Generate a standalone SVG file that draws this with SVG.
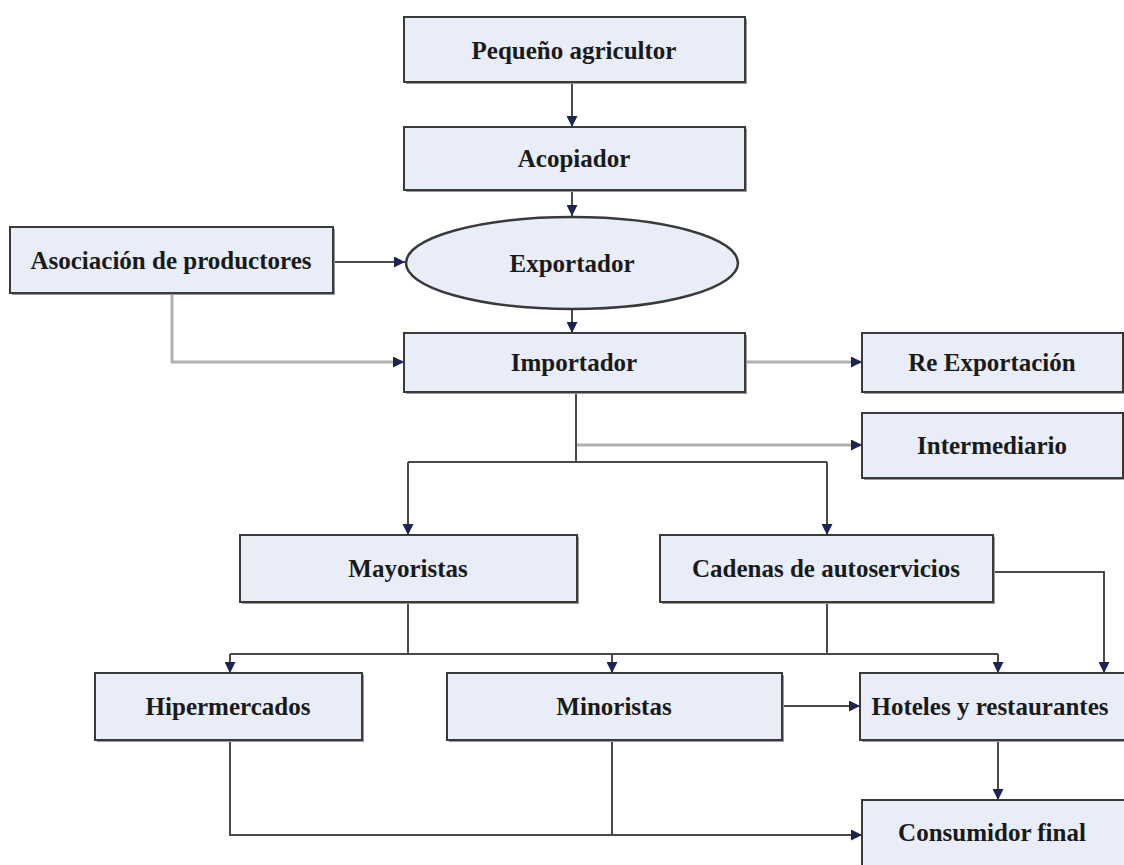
<svg xmlns="http://www.w3.org/2000/svg" width="1124" height="865" viewBox="0 0 1124 865">
<style>
.box{fill:#e8edf7;stroke:#3a3a3a;stroke-width:2}
.sh{fill:#9a9a9a}
.t{font-family:"Liberation Serif","Times New Roman",serif;font-weight:bold;font-size:25px;fill:#1a1a1a;text-anchor:middle}
.c{fill:none;stroke:#4a4a4a;stroke-width:2}
.cl{fill:none;stroke:#b0b0b0;stroke-width:3}
</style>
<defs>
<marker id="ah" viewBox="0 0 10 10" refX="10" refY="5" markerWidth="11" markerHeight="11" markerUnits="userSpaceOnUse" orient="auto">
<path d="M0,0 L10,5 L0,10 z" fill="#1e2352"/>
</marker>
</defs>
<rect width="1124" height="865" fill="#ffffff"/>
<g id="connectors">
<path class="c" d="M572,83 V127" marker-end="url(#ah)"/>
<path class="c" d="M572,191 V216" marker-end="url(#ah)"/>
<path class="c" d="M333,262 H405" marker-end="url(#ah)"/>
<path class="c" d="M572,309 V333" marker-end="url(#ah)"/>
<path class="cl" d="M172,294 V362 H404" marker-end="url(#ah)"/>
<path class="cl" d="M746,362 H862" marker-end="url(#ah)"/>
<path class="cl" d="M576,445 H862" marker-end="url(#ah)"/>
<path class="c" d="M576,393 V462"/>
<path class="c" d="M408,462 H827"/>
<path class="c" d="M408,462 V535" marker-end="url(#ah)"/>
<path class="c" d="M827,462 V535" marker-end="url(#ah)"/>
<path class="c" d="M994,572 H1104 V673" marker-end="url(#ah)"/>
<path class="c" d="M408,603 V654"/>
<path class="c" d="M827,603 V654"/>
<path class="c" d="M230,654 H998"/>
<path class="c" d="M230,654 V673" marker-end="url(#ah)"/>
<path class="c" d="M612,654 V673" marker-end="url(#ah)"/>
<path class="c" d="M998,654 V673" marker-end="url(#ah)"/>
<path class="c" d="M783,706 H860" marker-end="url(#ah)"/>
<path class="c" d="M998,741 V800" marker-end="url(#ah)"/>
<path class="c" d="M230,741 V835 H862" marker-end="url(#ah)"/>
<path class="c" d="M612,741 V835"/>
</g>
<g id="pequeno">
<rect class="sh" x="406" y="19" width="341" height="65"/>
<rect class="box" x="404" y="17" width="341" height="65"/>
<text class="t" x="574" y="59">Pequeño agricultor</text>
</g>
<g id="acopiador">
<rect class="sh" x="406" y="129" width="341" height="63"/>
<rect class="box" x="404" y="127" width="341" height="63"/>
<text class="t" x="574" y="167">Acopiador</text>
</g>
<g id="exportador">
<ellipse cx="572" cy="263" rx="166" ry="46" fill="#e8edf7" stroke="#3a3a3a" stroke-width="2.5"/>
<text class="t" x="572" y="272">Exportador</text>
</g>
<g id="asociacion">
<rect class="sh" x="12" y="229" width="323" height="66"/>
<rect class="box" x="10" y="227" width="323" height="66"/>
<text class="t" x="171" y="269">Asociación de productores</text>
</g>
<g id="importador">
<rect class="sh" x="406" y="335" width="341" height="59"/>
<rect class="box" x="404" y="333" width="341" height="59"/>
<text class="t" x="574" y="371">Importador</text>
</g>
<g id="reexportacion">
<rect class="sh" x="864" y="335" width="261" height="59"/>
<rect class="box" x="862" y="333" width="261" height="59"/>
<text class="t" x="992" y="371">Re Exportación</text>
</g>
<g id="intermediario">
<rect class="sh" x="864" y="415" width="261" height="65"/>
<rect class="box" x="862" y="413" width="261" height="65"/>
<text class="t" x="992" y="454">Intermediario</text>
</g>
<g id="mayoristas">
<rect class="sh" x="242" y="537" width="337" height="67"/>
<rect class="box" x="240" y="535" width="337" height="67"/>
<text class="t" x="408" y="577">Mayoristas</text>
</g>
<g id="cadenas">
<rect class="sh" x="662" y="537" width="333" height="67"/>
<rect class="box" x="660" y="535" width="333" height="67"/>
<text class="t" x="826" y="577">Cadenas de autoservicios</text>
</g>
<g id="hipermercados">
<rect class="sh" x="97" y="675" width="267" height="67"/>
<rect class="box" x="95" y="673" width="267" height="67"/>
<text class="t" x="228" y="715">Hipermercados</text>
</g>
<g id="minoristas">
<rect class="sh" x="449" y="675" width="335" height="67"/>
<rect class="box" x="447" y="673" width="335" height="67"/>
<text class="t" x="614" y="715">Minoristas</text>
</g>
<g id="hoteles">
<rect class="sh" x="862" y="675" width="266" height="67"/>
<rect class="box" x="860" y="673" width="266" height="67"/>
<text class="t" x="990" y="715">Hoteles y restaurantes</text>
</g>
<g id="consumidor">
<rect class="sh" x="864" y="802" width="266" height="70"/>
<rect class="box" x="862" y="800" width="266" height="70"/>
<text class="t" x="992" y="841">Consumidor final</text>
</g>
</svg>
